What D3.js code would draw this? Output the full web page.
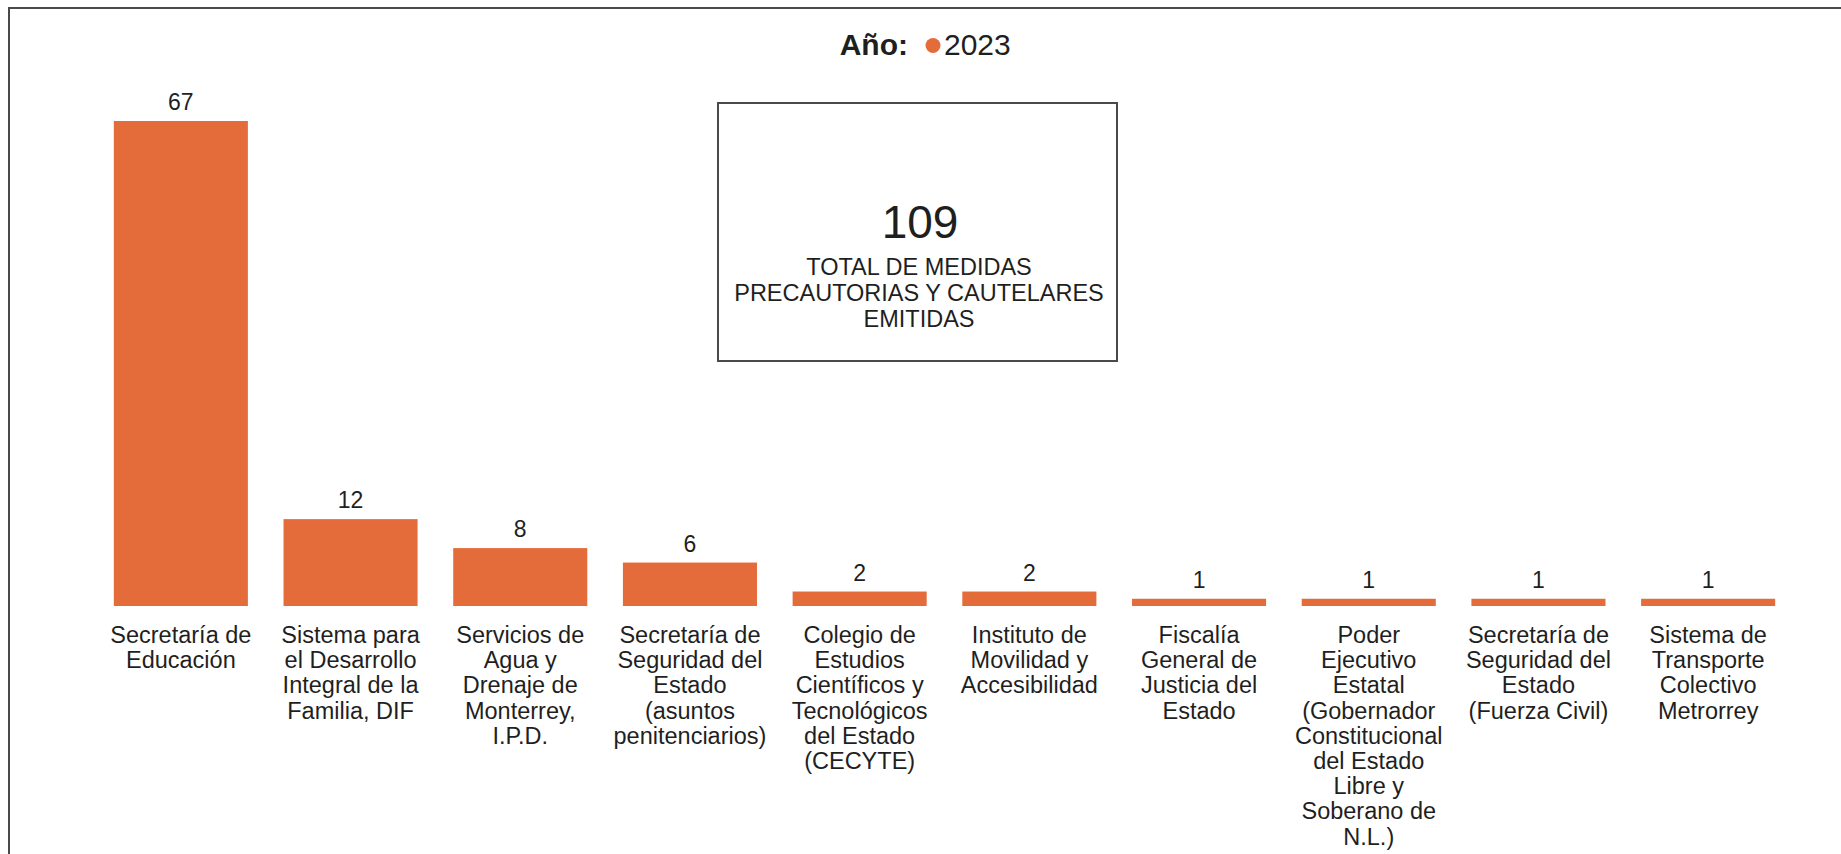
<!DOCTYPE html>
<html>
<head>
<meta charset="utf-8">
<script src="https://cdn.jsdelivr.net/npm/d3@7"></script>
<style>
  html, body { margin: 0; padding: 0; background: #fff; }
  text { font-family: "Liberation Sans", Arial, sans-serif; fill: #1f1f1f; }
</style>
</head>
<body>
<div id="wrapper"></div>
<script>
const categories = [
    ["Secretaría de", "Educación"],
    ["Sistema para", "el Desarrollo", "Integral de la", "Familia, DIF"],
    ["Servicios de", "Agua y", "Drenaje de", "Monterrey,", "I.P.D."],
    ["Secretaría de", "Seguridad del", "Estado", "(asuntos", "penitenciarios)"],
    ["Colegio de", "Estudios", "Científicos y", "Tecnológicos", "del Estado", "(CECYTE)"],
    ["Instituto de", "Movilidad y", "Accesibilidad"],
    ["Fiscalía", "General de", "Justicia del", "Estado"],
    ["Poder", "Ejecutivo", "Estatal", "(Gobernador", "Constitucional", "del Estado", "Libre y", "Soberano de", "N.L.)"],
    ["Secretaría de", "Seguridad del", "Estado", "(Fuerza Civil)"],
    ["Sistema de", "Transporte", "Colectivo", "Metrorrey"]
];
const values2023 = [67, 12, 8, 6, 2, 2, 1, 1, 1, 1];
const legendLabel = "Año:";
const seriesName = "2023";
const totalValue = 109;
const totalLines = ["TOTAL DE MEDIDAS", "PRECAUTORIAS Y CAUTELARES", "EMITIDAS"];

function buildPlot() {
    const width = 1841;
    const height = 854;
    const barColor = "#e46c3a";

    const svg = d3.select("#wrapper").append("svg")
        .attr("width", width)
        .attr("height", height);

    // outer frame (only left and top edges are visible)
    svg.append("path")
        .attr("d", `M9,${height + 5} L9,8 L${width + 5},8`)
        .attr("fill", "none")
        .attr("stroke", "#4a4a4a")
        .attr("stroke-width", 2);

    const idx = categories.map((d, i) => i);

    const xScaler = d3.scaleBand()
        .domain(idx)
        .range([96, 1793])
        .paddingInner(0.21)
        .paddingOuter(0.105);

    const yScaler = d3.scaleLinear()
        .domain([0, d3.max(values2023)])
        .range([606, 121]);

    // bars
    svg.append("g").selectAll("rect")
        .data(values2023)
        .join("rect")
        .attr("x", (d, i) => xScaler(i))
        .attr("y", d => yScaler(d))
        .attr("width", xScaler.bandwidth())
        .attr("height", d => yScaler(0) - yScaler(d))
        .attr("fill", barColor);

    // value labels
    svg.append("g").selectAll("text")
        .data(values2023)
        .join("text")
        .attr("x", (d, i) => xScaler(i) + xScaler.bandwidth() / 2)
        .attr("y", d => yScaler(d) - 11)
        .attr("text-anchor", "middle")
        .style("font-size", "23px")
        .text(d => d);

    // category labels
    const labels = svg.append("g").selectAll("text")
        .data(categories)
        .join("text")
        .attr("text-anchor", "middle")
        .style("font-size", "23.5px")
        .attr("transform", (d, i) => `translate(${xScaler(i) + xScaler.bandwidth() / 2}, ${yScaler(0) + 37})`);

    labels.selectAll("tspan")
        .data(d => d)
        .join("tspan")
        .attr("x", 0)
        .attr("y", (d, j) => j * 25.2)
        .text(d => d);

    // legend title
    const legend = svg.append("g");
    legend.append("text")
        .attr("x", 908)
        .attr("y", 55)
        .attr("text-anchor", "end")
        .style("font-size", "30px")
        .style("font-weight", "bold")
        .text(legendLabel);
    legend.append("circle")
        .attr("cx", 933)
        .attr("cy", 45.5)
        .attr("r", 7.5)
        .attr("fill", barColor);
    legend.append("text")
        .attr("x", 944)
        .attr("y", 55)
        .style("font-size", "30px")
        .text(seriesName);

    // total box
    const box = svg.append("g");
    box.append("rect")
        .attr("x", 718)
        .attr("y", 103)
        .attr("width", 399)
        .attr("height", 258)
        .attr("fill", "#fff")
        .attr("stroke", "#4a4a4a")
        .attr("stroke-width", 2);
    box.append("text")
        .attr("x", 920)
        .attr("y", 238)
        .attr("text-anchor", "middle")
        .style("font-size", "46px")
        .text(totalValue);
    box.selectAll("text.total-line")
        .data(totalLines)
        .join("text")
        .attr("class", "total-line")
        .attr("x", 919)
        .attr("y", (d, i) => 275 + i * 26)
        .attr("text-anchor", "middle")
        .style("font-size", "23.5px")
        .text(d => d);
}

buildPlot();
</script>
</body>
</html>
